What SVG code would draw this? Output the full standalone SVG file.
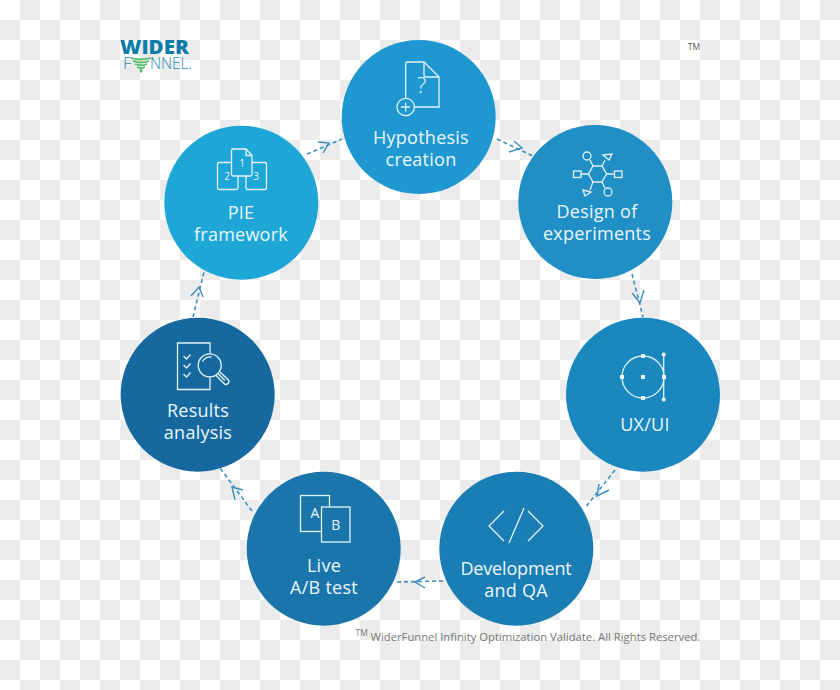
<svg xmlns="http://www.w3.org/2000/svg" width="840" height="690" viewBox="0 0 840 690">
<style>
.lbl{font-family:"Open Sans","Noto Sans",sans-serif;font-size:18px;letter-spacing:.25px;fill:#eaf6fb;text-anchor:middle}
.ic{fill:none;stroke:#e4f3f9;stroke-width:1.3}
.icf{fill:#eaf6fb;stroke:none}
.icl{font-family:"Open Sans","Noto Sans",sans-serif;fill:#eaf6fb;text-anchor:middle}
.dash{fill:none;stroke:#3f90c0;stroke-width:1.6;stroke-dasharray:4 3}
.head{fill:none;stroke:#3a8fc0;stroke-width:1.4}
</style>
<defs>
<pattern id="chk" width="40" height="40" patternUnits="userSpaceOnUse">
<rect width="40" height="40" fill="#fff"/>
<rect x="20" width="20" height="20" fill="#ececec"/>
<rect y="20" width="20" height="20" fill="#ececec"/>
</pattern>
</defs>
<rect width="840" height="690" fill="url(#chk)"/>
<g id="logo">
<text x="120" y="54" font-family="'Open Sans',sans-serif" font-weight="800" font-size="18.500" fill="#0e7cab" textLength="69" lengthAdjust="spacingAndGlyphs">WIDER</text>
<text x="123" y="69" font-family="'Open Sans',sans-serif" font-weight="300" font-size="17" fill="#2a8fb5">F</text>
<text x="150" y="69" font-family="'Open Sans',sans-serif" font-weight="300" font-size="17" fill="#2a8fb5" textLength="42" lengthAdjust="spacingAndGlyphs">NNEL.</text>
<path d="M131 58q10 3 20 0M133 61q8 3 16 0M135 64q6 2.500 12 0M137 67q4 2 8 0" fill="none" stroke="#55b96a" stroke-width="1.800"/>
<path d="M141 69v3.500" fill="none" stroke="#55b96a" stroke-width="2.500"/>
</g>
<text id="tm" x="694" y="50" font-family="'Open Sans',sans-serif" font-size="8.500" fill="#555" text-anchor="middle">TM</text>
<g id="connectors">
<path class="dash" d="M497 139L533 156"/><path class="head" d="M514 141L522 148L509 152"/>
<path class="dash" d="M632 274L643 317"/><path class="head" d="M632 293L640 303L644 290"/>
<path class="dash" d="M615 470L585 508"/><path class="head" d="M599 484L597 496L609 490"/>
<path class="dash" d="M443 581L397 582"/><path class="head" d="M425 577L415 582L425 588"/>
<path class="dash" d="M252 511L220 468"/><path class="head" d="M243 490L232 487L235 500"/>
<path class="dash" d="M193 317L204 272"/><path class="head" d="M191 296L199 287L203 297"/>
<path class="dash" d="M307 154L342 139"/><path class="head" d="M318 142L329 143L323 153"/>
</g>
<g id="hypothesis">
<circle cx="418.700" cy="117" r="77" fill="#1f98d2"/>
<path class="ic" d="M405.700 98V64q0-2 2-2H424L439 77V107H414.500M424 62V75q0 2 2 2H439"/>
<circle class="ic" cx="405.700" cy="107" r="8.700"/>
<path class="ic" d="M405.700 102.500v9M401.200 107h9"/>
<text class="icl" x="421.700" y="93" font-size="22" font-weight="300">?</text>
<text class="lbl" x="421" y="144">Hypothesis</text>
<text class="lbl" x="421" y="166">creation</text>
</g>
<g id="design">
<circle cx="595.300" cy="202" r="77" fill="#1f8fc6"/>
<path class="ic" d="M593 166H602L606.500 174L602 182H593L588.500 174Z"/>
<path class="ic" d="M581 174H588.500M606.500 174H614M593 166L590 160M602 166L605 160M593 182L590 190M602 182L605 188"/>
<rect class="ic" x="573.500" y="171" width="7.500" height="6.500"/><rect class="ic" x="614.500" y="171" width="7.500" height="6.500"/>
<circle class="ic" cx="587" cy="156" r="4"/><circle class="ic" cx="608" cy="192" r="4"/>
<path class="ic" d="M603 155L612 154L609 160Z"/><path class="ic" d="M583 190L591 192L585 196Z"/>
<text class="lbl" x="597" y="218">Design of</text>
<text class="lbl" x="597" y="240">experiments</text>
</g>
<g id="uxui">
<circle cx="643" cy="394.700" r="77" fill="#1a88bf"/>
<circle class="ic" cx="643" cy="377" r="21"/>
<path class="ic" d="M663.700 354V400"/>
<g class="icf">
<rect x="641" y="354" width="4" height="4"/><rect x="641" y="375" width="4" height="4"/><rect x="641" y="396" width="4" height="4"/><rect x="620" y="375" width="4" height="4"/><rect x="662" y="375" width="4" height="4"/>
<circle cx="663.700" cy="354.500" r="2"/><circle cx="663.700" cy="399.500" r="2"/>
</g>
<text class="lbl" x="645" y="431">UX/UI</text>
</g>
<g id="dev">
<circle cx="516.300" cy="548.700" r="77" fill="#1a7db3"/>
<path class="ic" d="M504 511L489 526L504 541M528 511L543 526L528 541M524 508L509 543"/>
<text class="lbl" x="516" y="575" style="letter-spacing:-.15px">Development</text>
<text class="lbl" x="516" y="597">and QA</text>
</g>
<g id="live">
<circle cx="323.700" cy="548.700" r="77" fill="#1a75aa"/>
<rect class="ic" x="300.500" y="495.500" width="29" height="36"/>
<rect x="321.500" y="507" width="28.500" height="35" fill="#1a75aa" stroke="#e4f3f9" stroke-width="1.300"/>
<text class="icl" x="315" y="518" font-size="14">A</text>
<text class="icl" x="335.700" y="530" font-size="14">B</text>
<text class="lbl" x="324" y="572">Live</text>
<text class="lbl" x="324" y="594">A/B test</text>
</g>
<g id="results">
<circle cx="197.700" cy="394.700" r="77" fill="#16699f"/>
<path class="ic" d="M210 353V343H177.500V389.500H210V377"/>
<path class="ic" d="M183.500 356L186.500 359L190.500 354.500M183.500 365L186.500 368L190.500 363.500M183.500 374L186.500 377L190.500 372.500"/>
<circle class="ic" cx="209.700" cy="365.300" r="11.500"/>
<path class="ic" d="M202.500 361.500q3-5 9-4.500"/>
<path class="ic" d="M218 373.500L225 380.500M216 375.500L224 383.500q2 2 4 0t0-4L220 372"/>
<text class="lbl" x="198" y="417">Results</text>
<text class="lbl" x="198" y="439">analysis</text>
</g>
<g id="pie">
<circle cx="241.300" cy="202.700" r="77" fill="#1da6d6"/>
<rect class="ic" x="217.500" y="162.500" width="20.500" height="27" rx="1.500"/>
<rect class="ic" x="246" y="162.500" width="20.500" height="27" rx="1.500"/>
<path d="M233 149H246L252 155.500V174.500q0 1.500-1.500 1.500H233q-1.500 0-1.500-1.500V150.500q0-1.500 1.500-1.500Z" fill="#1da6d6" stroke="#e4f3f9" stroke-width="1.300"/>
<path class="ic" d="M246 149V155.500H252"/>
<text class="icl" x="242" y="166.500" font-size="10">1</text>
<text class="icl" x="227" y="179.500" font-size="10">2</text>
<text class="icl" x="256" y="179.500" font-size="10">3</text>
<text class="lbl" x="241" y="219">PIE</text>
<text class="lbl" x="241" y="241">framework</text>
</g>
<g id="copyright" font-family="'Open Sans',sans-serif" fill="#777">
<text x="355.500" y="636" font-size="8.500">TM</text>
<text x="370.500" y="641" font-size="11.270">WiderFunnel Infinity Optimization Validate. All Rights Reserved.</text>
</g>
</svg>
